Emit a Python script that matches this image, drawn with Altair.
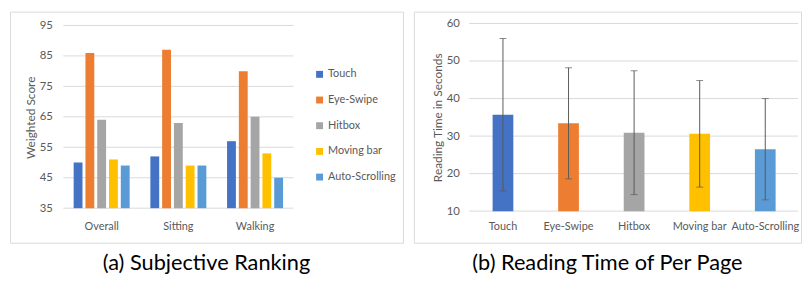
import altair as alt
import pandas as pd

categories = ["Overall", "Sitting", "Walking"]
methods = ["Touch", "Eye-Swipe", "Hitbox", "Moving bar", "Auto-Scrolling"]
colors = ["#4472C4", "#ED7D31", "#A5A5A5", "#FFC000", "#5B9BD5"]
overall_scores = [50, 86, 64, 51, 49]
sitting_scores = [52, 87, 63, 49, 49]
walking_scores = [57, 80, 65, 53, 45]
score_ticks = [35, 45, 55, 65, 75, 85, 95]

reading_means = [35.7, 33.4, 30.9, 30.6, 26.5]
reading_sd = [20.3, 14.8, 16.5, 14.2, 13.5]
time_ticks = [10, 20, 30, 40, 50, 60]

FONT = "Lato"
CAP_FONT = "Lato"
TXT = "#595959"
GRID = "#D9D9D9"

rows = []
for cat, vals in zip(categories, [overall_scores, sitting_scores, walking_scores]):
    for m, v in zip(methods, vals):
        rows.append({"condition": cat, "method": m, "score": v})
df_a = pd.DataFrame(rows)

df_b = pd.DataFrame({"method": methods, "mean": reading_means, "sd": reading_sd})
df_b["lo"] = df_b["mean"] - df_b["sd"]
df_b["hi"] = df_b["mean"] + df_b["sd"]

VIEW_H = 234
A_W = 398
B_W = 392


def x_axis():
    return alt.Axis(title=None, labelAngle=0, domain=False, ticks=False, labelPadding=0,
                    offset=-22, labelBaseline="top", labelFont=FONT, labelFontSize=11,
                    labelColor=TXT)


def y_axis(values, title, offset):
    return alt.Axis(values=values, title=title, grid=False, domain=False, ticks=False,
                    labelPadding=0, offset=offset, labelFont=FONT, labelFontSize=11.5,
                    labelColor=TXT, titleFont=FONT, titleFontSize=12, titleFontWeight="normal",
                    titleColor=TXT, titleX=-22, titleY=107, titleAngle=270,
                    titleAlign="center", titleBaseline="middle")


def caption(text):
    return alt.TitleParams(text, orient="bottom", anchor="middle", font=CAP_FONT,
                           fontSize=22, fontWeight="normal", color="black", offset=11)


# ---------- panel (a) ----------
y_a = alt.Scale(domain=[35, 95], range=[199, 14], nice=False, zero=False)
x_a = alt.Scale(domain=categories, range=[54, 287], paddingInner=0.27, paddingOuter=0.135)
ax_ya = y_axis(score_ticks, "Weighted Score", -43)

grid_a = alt.Chart(pd.DataFrame({"v": score_ticks})).mark_rule(color=GRID, strokeWidth=1).encode(
    y=alt.Y("v:Q", scale=y_a, axis=ax_ya),
    x=alt.value(54), x2=alt.value(287),
)

bars_a = alt.Chart(df_a).mark_bar().encode(
    x=alt.X("condition:N", scale=x_a, sort=categories, axis=x_axis()),
    xOffset=alt.XOffset("method:N", sort=methods,
                        scale=alt.Scale(domain=methods, paddingInner=0.25, paddingOuter=0)),
    y=alt.Y("score:Q", scale=y_a, axis=ax_ya),
    y2=alt.datum(35),
    color=alt.Color("method:N", sort=methods, scale=alt.Scale(domain=methods, range=colors),
                    legend=alt.Legend(title=None, orient="none", legendX=308, legendY=58,
                                      symbolType="square", symbolSize=49, symbolStrokeWidth=0,
                                      labelFont=FONT, labelFontSize=11, labelColor=TXT,
                                      rowPadding=14, labelOffset=3, padding=0)),
)

panel_a = alt.layer(grid_a, bars_a).properties(
    width=A_W, height=VIEW_H, title=caption("(a) Subjective Ranking"),
)

# ---------- panel (b) ----------
y_b = alt.Scale(domain=[10, 60], range=[202, 12], nice=False, zero=False)
x_b = alt.Scale(domain=methods, range=[57, 389], paddingInner=0.684, paddingOuter=0.342)
ax_yb = y_axis(time_ticks, "Reading Time in Seconds", -46)
ax_xb = x_axis()

grid_b = alt.Chart(pd.DataFrame({"v": time_ticks})).mark_rule(color=GRID, strokeWidth=1).encode(
    y=alt.Y("v:Q", scale=y_b, axis=ax_yb),
    x=alt.value(56), x2=alt.value(389),
)

bars_b = alt.Chart(df_b).mark_bar().encode(
    x=alt.X("method:N", scale=x_b, sort=methods, axis=ax_xb),
    y=alt.Y("mean:Q", scale=y_b, axis=ax_yb),
    y2=alt.datum(10),
    color=alt.Color("method:N", sort=methods, scale=alt.Scale(domain=methods, range=colors),
                    legend=None),
)

err_b = alt.Chart(df_b).mark_rule(color="#595959", strokeWidth=1).encode(
    x=alt.X("method:N", scale=x_b, sort=methods, axis=ax_xb),
    y=alt.Y("lo:Q", scale=y_b, axis=ax_yb),
    y2="hi:Q",
)
cap_lo = alt.Chart(df_b).mark_tick(color="#595959", size=7, thickness=1).encode(
    x=alt.X("method:N", scale=x_b, sort=methods, axis=ax_xb),
    y=alt.Y("lo:Q", scale=y_b, axis=ax_yb),
)
cap_hi = alt.Chart(df_b).mark_tick(color="#595959", size=7, thickness=1).encode(
    x=alt.X("method:N", scale=x_b, sort=methods, axis=ax_xb),
    y=alt.Y("hi:Q", scale=y_b, axis=ax_yb),
)

panel_b = alt.layer(grid_b, bars_b, err_b, cap_lo, cap_hi).properties(
    width=B_W, height=VIEW_H, title=caption("(b) Reading Time of Per Page"),
)

chart = alt.hconcat(panel_a, panel_b, spacing=9).resolve_scale(
    color="independent", x="independent", y="independent"
).resolve_legend(color="independent").properties(
    padding={"left": 1, "top": 1, "right": 0, "bottom": 0}
).configure_view(stroke=GRID, strokeWidth=1)

chart.save("out.html", embed_options={"renderer": "svg", "actions": False})
